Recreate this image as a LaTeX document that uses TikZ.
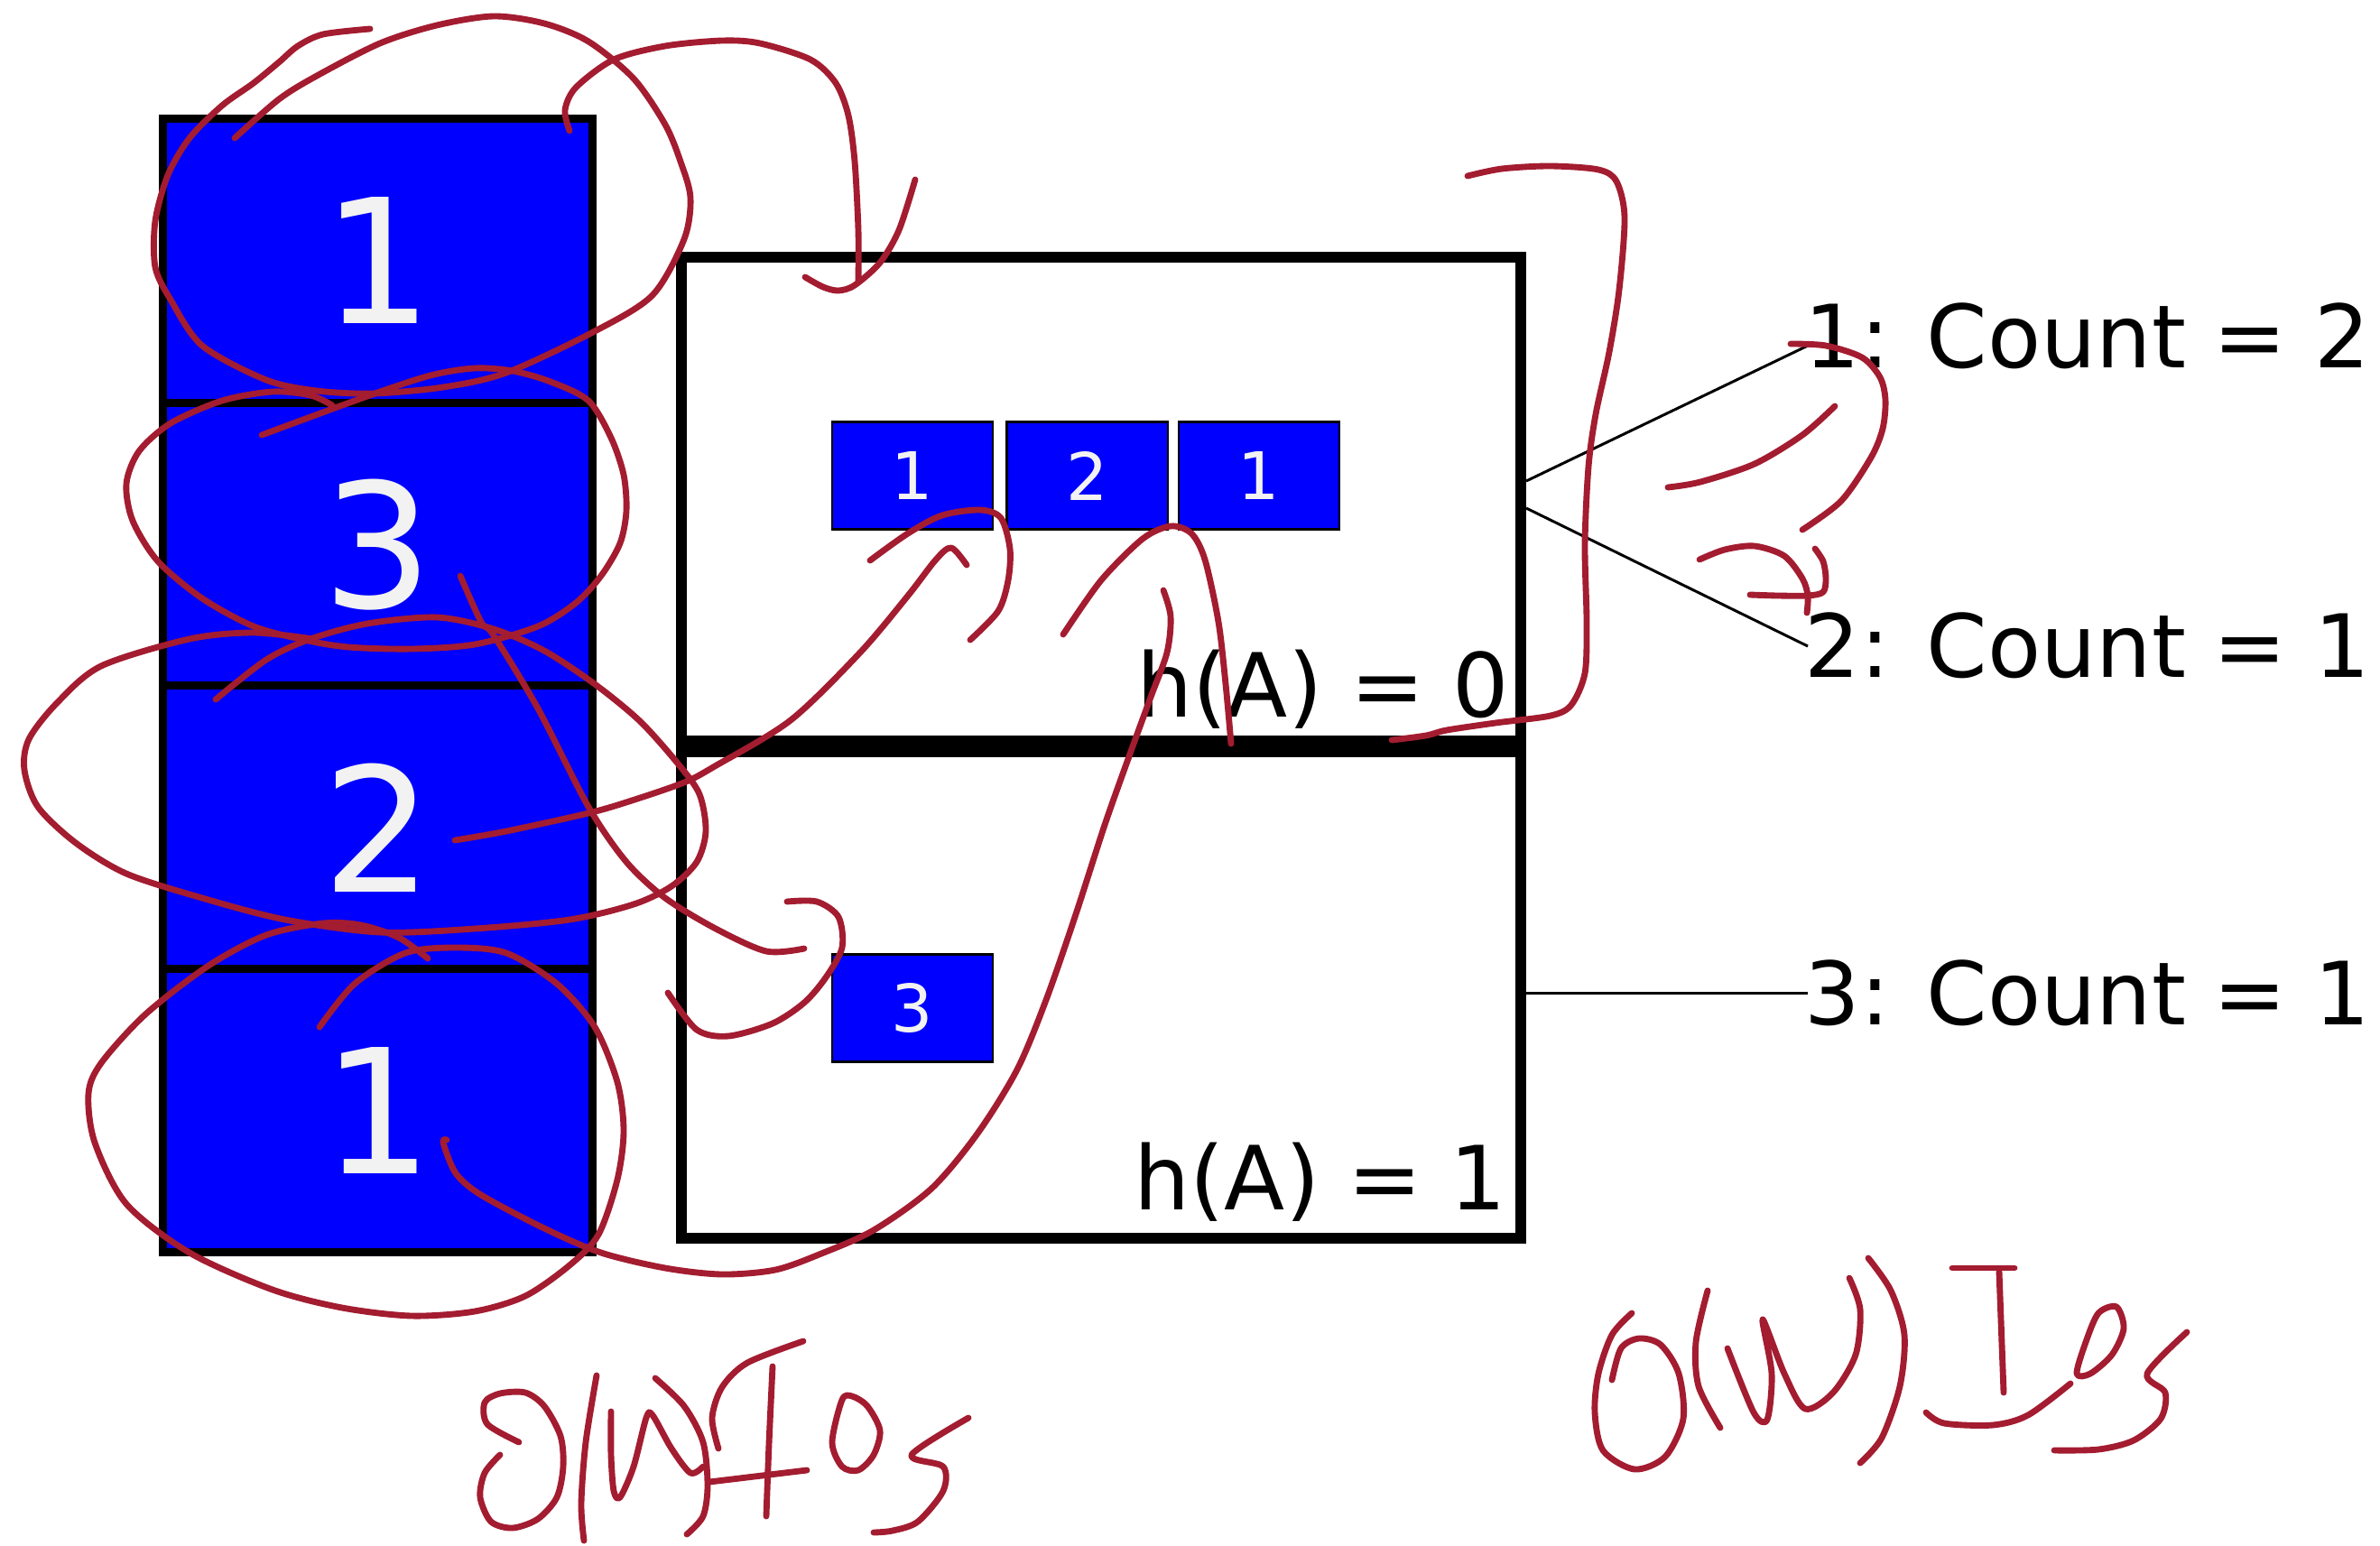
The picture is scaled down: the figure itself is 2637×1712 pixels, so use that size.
\documentclass[tikz,border=0pt]{standalone}
\usepackage{fontspec}
\setmainfont{DejaVu Sans}
\usetikzlibrary{calc}
\definecolor{ink}{RGB}{163,28,48}
\definecolor{cellblue}{RGB}{0,0,255}
\definecolor{digit}{RGB}{242,242,242}
\tikzset{
 cell/.style={draw=black, line width=2.56pt, fill=cellblue, minimum width=4.75cm, minimum height=3.14cm, inner sep=0, text=digit, font=\fontsize{54.6pt}{60pt}\selectfont},
 slot/.style={draw=black, line width=0.6pt, fill=cellblue, minimum width=1.78cm, minimum height=1.19cm, inner sep=0, text=digit, font=\fontsize{20.7pt}{24pt}\selectfont},
 bucket/.style={draw=black, line width=3.4pt, minimum width=9.3cm, inner sep=0},
 lbl/.style={font=\fontsize{27.9pt}{32pt}\selectfont, inner sep=0},
 cnt/.style={font=\fontsize{27.5pt}{32pt}\selectfont, inner sep=0},
 link/.style={draw=black, line width=0.85pt},
 pen/.style={draw=ink, line width=1.95pt, line cap=round, line join=round},
}
\begin{document}
\begin{tikzpicture}[x=0.01cm, y=-0.01cm]
\useasboundingbox (0,0) rectangle (2637,1712);
\fill[white] (0,0) rectangle (2637,1712);
% left column
\node[cell] (c1) at (418.5,289) {1};
\node[cell] (c2) at (418.5,603.5) {3};
\node[cell] (c3) at (418.5,917) {2};
\node[cell] (c4) at (418.5,1230.5) {1};
% buckets
\node[bucket, minimum height=5.36cm] (b0) at (1220,553) {};
\node[bucket, minimum height=5.39cm] (b1) at (1220,1102.5) {};
% slots
\node[slot] (s1) at (1011,527) {1};
\node[slot] (s2) at (1204.5,527) {2};
\node[slot] (s3) at (1395,527) {1};
\node[slot] (s4) at (1011,1117) {3};
% hash labels
\node[lbl, anchor=base east] (h0) at (1673,794) {h(A) = 0};
\node[lbl, anchor=base east] (h1) at (1670,1340) {h(A) = 1};
% counts
\node[cnt, anchor=base west] (k1) at (1999,407) {1: Count = 2};
\node[cnt, anchor=base west] (k2) at (1999,750) {2: Count = 1};
\node[cnt, anchor=base west] (k3) at (1999,1135) {3: Count = 1};
\coordinate (o1) at (1691,533);
\coordinate (o2) at (1691,563);
\coordinate (o3) at (1691,1100);
\coordinate (e1) at (2003,383);
\coordinate (e2) at (2003,716);
\coordinate (e3) at (2003,1100);
\draw[link] (o1) -- (e1);
\draw[link] (o2) -- (e2);
\draw[link] (o3) -- (e3);
% ---- red annotations ----
% loop around cell 1
\draw[pen] plot[smooth] coordinates {(410,32) (358,38) (330,51) (309,69) (281,92) (246,117) (210,153) (186,194) (172,245) (172,296) (189,332) (224,383) (295,421) (351,433) (414,436) (491,429) (561,413) (659,367) (723,327) (758,265) (765,219) (754,179) (737,138) (702,87) (652,46) (603,26) (547,18) (484,28) (421,48) (351,84) (309,110) (260,153)};
% arrow to top bucket
\draw[pen] plot[smooth] coordinates {(631,145) (626,122) (638,97) (680,66) (737,51) (800,45) (842,48) (898,66) (926,92) (940,128) (947,179) (951,255) (951,311)};
\draw[pen] plot[smooth] coordinates {(892,307) (912,318) (929,322) (947,316) (975,291) (996,255) (1014,199)};
% loop around cell 3
\draw[pen] plot[smooth] coordinates {(290,482) (407,439) (477,416) (526,408) (568,411) (610,423) (652,444) (677,485) (691,526) (694,566) (687,602) (666,638) (638,668) (596,694) (526,714) (456,719) (386,717) (337,709) (281,694) (224,663) (175,622) (147,577) (140,536) (154,500) (189,469) (246,444) (302,434) (344,438) (368,449)};
% line from 3 down to slot 3
\draw[pen] plot[smooth] coordinates {(510,638) (533,689) (547,704) (596,785) (652,894) (694,955) (737,995) (793,1029) (849,1054) (891,1051)};
\draw[pen] plot[smooth] coordinates {(872,999) (905,999) (929,1016) (933,1050) (915,1083) (891,1111) (856,1134) (807,1148) (772,1141) (740,1100)};
% loop around cell 2
\draw[pen] plot[smooth] coordinates {(347,708) (281,701) (210,708) (112,738) (63,779) (32,819) (27,853) (42,894) (84,934) (140,968) (224,995) (316,1019) (421,1033) (526,1029) (631,1019) (702,1002) (744,982) (772,955) (782,921) (775,880) (751,846) (709,799) (659,758) (603,721) (547,697) (484,684) (407,691) (344,708) (295,731) (239,775)};
% line from 2 to slot 1
\draw[pen] plot[smooth] coordinates {(504,931) (561,921) (652,901) (700,887) (758,867) (792,849) (876,798) (953,723) (1006,660) (1037,620) (1054,607) (1071,626)};
% hook under slot 1
\draw[pen] plot[smooth] coordinates {(964,621) (1006,591) (1044,571) (1086,565) (1109,574) (1119,608) (1117,643) (1106,677) (1075,709)};
% hook under slot 2/3
\draw[pen] plot[smooth] coordinates {(1178,703) (1220,643) (1266,597) (1297,583) (1320,591) (1335,620) (1350,689) (1358,758) (1364,824)};
% long curve from cell 4 to slot 3
\draw[pen] plot[smooth] coordinates {(1289,654) (1297,683) (1293,723) (1274,775) (1251,838) (1224,914) (1191,1016) (1159,1108) (1127,1185) (1083,1256) (1032,1317) (968,1363) (910,1389) (859,1407) (800,1412) (737,1405) (666,1388) (603,1361) (533,1324) (505,1300) (491,1266) (495,1263)};
% loop around cell 4
\draw[pen] plot[smooth] coordinates {(354,1138) (393,1090) (449,1056) (505,1050) (561,1056) (617,1090) (659,1138) (684,1199) (691,1253) (684,1307) (663,1368) (631,1402) (582,1436) (526,1453) (456,1458) (379,1449) (302,1429) (210,1388) (140,1334) (105,1266) (98,1212) (112,1178) (161,1124) (231,1070) (295,1036) (358,1023) (400,1025) (442,1039) (474,1062)};
% bracket right of top bucket
\draw[pen] plot[smooth] coordinates {(1626,195) (1664,187) (1718,184) (1771,188) (1791,201) (1800,241) (1794,321) (1783,390) (1768,459) (1760,517) (1756,603) (1758,689) (1756,746) (1741,781) (1718,793) (1657,801) (1603,809) (1580,815) (1542,820)};
% marks near counts
\draw[pen] plot[smooth] coordinates {(1984,381) (2023,383) (2063,396) (2083,418) (2089,443) (2086,475) (2073,507) (2040,555) (1997,587)};
\draw[pen] plot[smooth] coordinates {(1848,540) (1884,534) (1944,514) (1997,482) (2033,450)};
\draw[pen] plot[smooth] coordinates {(1883,620) (1911,609) (1944,605) (1977,616) (1997,641) (2003,660) (2002,679)};
\draw[pen] plot[smooth] coordinates {(1939,659) (1970,660) (2003,660) (2020,656) (2023,641) (2020,622) (2011,608)};
% left O(N) IOs
\draw[pen] plot[smooth] coordinates {(575,1598) (540,1578) (537,1554) (554,1544) (582,1543) (603,1558) (621,1591) (624,1625) (617,1659) (596,1683) (568,1693) (544,1686) (532,1659) (537,1632) (554,1612)};
\draw[pen] plot[smooth] coordinates {(661,1524) (649,1598) (644,1666) (647,1707)};
\draw[pen] plot[smooth] coordinates {(677,1564) (677,1612) (680,1652) (687,1659) (702,1625) (716,1571) (723,1568) (744,1605) (765,1632) (779,1625)};
\draw[pen] plot[smooth] coordinates {(726,1527) (758,1558) (779,1598) (784,1646) (779,1680) (761,1700)};
\draw[pen] (786,1642) -- (894,1629);
\draw[pen] plot[smooth] coordinates {(856,1514) (852,1600) (849,1680)};
\draw[pen] plot[smooth] coordinates {(796,1605) (789,1571) (800,1537) (828,1510) (890,1486)};
\draw[pen] plot[smooth cycle] coordinates {(933,1551) (922,1598) (933,1625) (951,1629) (968,1612) (975,1585) (961,1558) (944,1547)};
\draw[pen] plot[smooth] coordinates {(1073,1571) (1010,1612) (1045,1625) (1045,1652) (1017,1686) (989,1696) (968,1698)};
% right O(N) IOs
\draw[pen] plot[smooth] coordinates {(1808,1455) (1786,1479) (1771,1522) (1767,1565) (1776,1607) (1811,1628) (1845,1614) (1865,1572) (1860,1522) (1840,1490) (1816,1483) (1796,1494) (1786,1529)};
\draw[pen] plot[smooth] coordinates {(1892,1430) (1879,1487) (1882,1536) (1906,1582)};
\draw[pen] plot[smooth] coordinates {(1914,1494) (1943,1565) (1958,1573) (1963,1522) (1953,1462) (1977,1522) (2000,1561) (2031,1543) (2056,1501) (2061,1451) (2049,1416)};
\draw[pen] plot[smooth] coordinates {(2070,1394) (2095,1430) (2110,1479) (2105,1536) (2085,1593) (2061,1621)};
\draw[pen] (2163,1405) -- (2232,1405);
\draw[pen] (2215,1409) -- (2220,1543);
\draw[pen] plot[smooth] coordinates {(2134,1565) (2154,1577) (2208,1579) (2247,1568) (2294,1533)};
\draw[pen] plot[smooth cycle] coordinates {(2301,1522) (2311,1487) (2325,1455) (2345,1448) (2353,1472) (2340,1501) (2316,1522)};
\draw[pen] plot[smooth] coordinates {(2423,1476) (2379,1522) (2399,1543) (2394,1572) (2364,1596) (2325,1606) (2276,1607)};
\end{tikzpicture}
\end{document}
